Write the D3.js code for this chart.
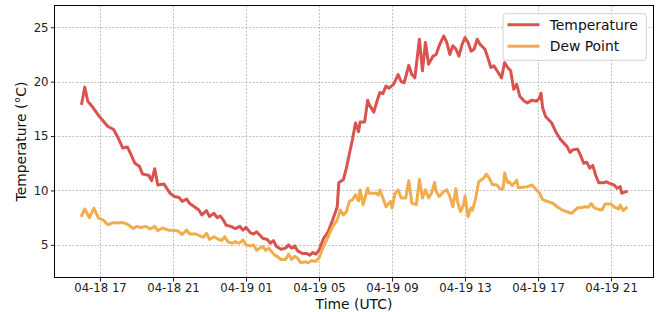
<!DOCTYPE html>
<html>
<head>
<meta charset="utf-8">
<script src="https://cdn.jsdelivr.net/npm/d3@7"></script>
<style>
  html, body { margin: 0; padding: 0; background: #fff; }
  svg { display: block; font-family: "DejaVu Sans", sans-serif; }
</style>
</head>
<body>
<svg id="chart" width="659" height="312"></svg>
<script>
// ---- Data ----
const startTime = "2024-04-18T16:00:00Z";   // first observation (UTC)
const seriesNames = ["Temperature", "Dew Point"];
const seriesColors = ["#d9534f", "#f0ad4e"];

// minutes after startTime, and temperature (°C)
const tempMinutes = [0,10,20,35,55,70,85,105,120,135,150,165,175,190,200,220,230,240,250,270,290,305,320,330,345,355,385,395,410,420,435,445,455,465,475,490,505,520,530,540,555,565,575,585,595,610,620,630,640,655,670,680,690,700,710,725,740,750,760,770,780,795,810,825,840,845,860,870,880,890,900,910,915,930,940,945,960,970,980,990,1000,1010,1025,1040,1050,1060,1075,1085,1095,1110,1120,1130,1140,1155,1165,1175,1190,1200,1210,1220,1230,1240,1250,1260,1270,1280,1290,1300,1310,1325,1335,1345,1355,1370,1380,1390,1400,1410,1420,1430,1440,1455,1465,1480,1495,1505,1510,1515,1525,1545,1560,1575,1595,1605,1615,1630,1640,1650,1660,1670,1680,1690,1700,1715,1725,1735,1750,1760,1770,1775,1790];
const tempValues = [18.0,19.5,18.2,17.7,16.9,16.4,15.9,15.6,14.8,13.9,14.0,13.1,12.5,12.2,11.5,11.4,10.9,12.0,10.5,10.6,9.75,9.45,9.35,9.0,9.2,8.8,8.2,7.75,8.15,7.6,7.9,7.5,7.65,7.3,6.8,6.7,6.5,6.7,6.35,6.6,6.1,6.0,6.2,5.9,5.6,5.5,5.15,5.4,4.85,4.6,4.7,5.0,4.7,4.9,4.45,4.2,4.2,4.05,4.3,4.15,4.5,5.6,6.2,7.3,8.5,10.7,11.0,12.05,13.4,14.7,16.2,15.4,16.3,16.3,18.3,17.9,17.2,18.15,19.0,18.9,19.6,19.4,19.75,20.65,20.0,19.9,21.5,20.65,20.35,23.9,21.0,23.6,21.6,22.35,22.5,23.3,24.2,23.6,22.5,23.3,23.0,22.35,23.4,24.05,23.6,22.8,23.0,23.9,23.4,23.0,22.2,21.3,21.45,20.8,20.35,21.75,21.3,21.0,19.3,19.75,18.65,18.2,18.05,18.3,18.2,18.5,18.95,17.6,16.8,16.2,15.3,14.65,14.05,13.5,13.75,13.8,13.2,12.5,12.6,12.05,12.3,11.35,10.7,10.7,10.8,10.65,10.5,10.2,10.35,9.75,9.9];

// minutes after startTime, and dew point (°C)
const dewMinutes = [0,10,25,40,55,70,85,105,120,135,150,170,180,195,210,225,240,250,265,285,300,315,330,345,355,375,390,400,410,420,435,450,460,470,480,495,505,515,525,530,540,555,565,575,585,595,605,615,625,635,645,655,670,680,690,700,710,720,735,745,755,770,780,795,810,825,840,850,860,870,880,890,900,910,915,925,940,945,965,975,980,990,1000,1015,1020,1030,1040,1050,1065,1075,1085,1100,1110,1120,1130,1140,1150,1160,1165,1175,1190,1200,1210,1220,1230,1235,1245,1255,1260,1270,1280,1285,1295,1305,1320,1330,1340,1350,1365,1375,1385,1390,1400,1405,1415,1430,1435,1450,1465,1480,1490,1505,1515,1530,1550,1565,1580,1600,1610,1620,1630,1640,1655,1665,1675,1685,1695,1710,1720,1730,1740,1750,1765,1770,1780,1790];
const dewValues = [7.7,8.3,7.5,8.35,7.45,7.3,6.85,7.05,7.0,7.05,6.9,6.5,6.7,6.6,6.7,6.45,6.7,6.3,6.55,6.35,6.35,6.3,5.95,6.35,6.0,6.0,5.8,5.7,6.05,5.5,5.75,5.5,5.4,5.75,5.3,5.15,5.3,5.15,5.3,5.45,5.0,4.9,5.0,4.5,4.7,4.85,4.5,4.7,4.35,4.05,3.9,3.65,3.65,4.15,3.65,3.95,3.75,3.35,3.45,3.35,3.55,3.5,3.8,4.85,5.75,6.7,7.3,8.2,7.75,8.05,9.0,9.15,9.6,9.05,10.05,8.7,10.2,9.75,9.75,9.6,10.05,9.3,8.5,9.0,8.4,9.75,10.05,9.3,9.3,10.9,8.85,8.7,11.0,9.3,10.05,9.3,9.75,10.75,9.9,9.45,9.9,10.05,9.45,8.5,10.15,9.0,8.05,8.65,9.5,7.6,8.4,8.2,9.3,10.8,11.1,11.5,11.1,10.55,10.5,10.15,10.15,11.6,10.7,10.8,10.45,10.95,10.25,10.3,10.35,10.5,10.2,9.75,9.15,9.0,8.8,8.45,8.2,8.0,7.9,8.15,8.4,8.4,8.5,8.45,8.8,8.4,8.3,8.2,8.75,8.75,8.75,8.5,8.3,8.65,8.15,8.4];

const xTickLabels = ["04-18 17","04-18 21","04-19 01","04-19 05","04-19 09","04-19 13","04-19 17","04-19 21"];
const yTickValues = [5, 10, 15, 20, 25];
const yDomain = [2.0, 27.0];
const xLabel = "Time (UTC)";
const yLabel = "Temperature (°C)";

// ---- Build ----
const t0 = new Date(startTime);
const toDate = m => new Date(t0.getTime() + m * 60000);
const series = [
  tempMinutes.map((m, i) => ({ t: toDate(m), v: tempValues[i] })),
  dewMinutes.map((m, i) => ({ t: toDate(m), v: dewValues[i] }))
];
const parseTick = d3.utcParse("%Y-%m-%d %H");
const xTicks = xTickLabels.map(s => parseTick("2024-" + s));

const L = 54.5, R = 653.5, T = 5.5, B = 277.5;
const svg = d3.select("#chart");

const [tmin, tmax] = d3.extent(series.flat(), d => d.t);
const pad = (tmax - tmin) * 0.05;
const x = d3.scaleUtc().domain([new Date(+tmin - pad), new Date(+tmax + pad)]).range([L, R]);
const y = d3.scaleLinear().domain(yDomain).range([B, T]);

// grid
const grid = svg.append("g").attr("stroke", "#b0b0b0").attr("stroke-width", 0.8)
  .attr("stroke-dasharray", "2,1.6");
grid.selectAll("line.v").data(xTicks).join("line")
  .attr("x1", d => Math.round(x(d)) + 0.5).attr("x2", d => Math.round(x(d)) + 0.5)
  .attr("y1", T).attr("y2", B);
grid.selectAll("line.h").data(yTickValues).join("line")
  .attr("y1", d => Math.round(y(d)) + 0.5).attr("y2", d => Math.round(y(d)) + 0.5)
  .attr("x1", L).attr("x2", R);

// lines
const line = d3.line().x(d => x(d.t)).y(d => y(d.v));
series.forEach((s, i) => {
  svg.append("path").datum(s)
    .attr("fill", "none").attr("stroke", seriesColors[i])
    .attr("stroke-width", 3).attr("stroke-linejoin", "round").attr("stroke-linecap", "square")
    .attr("d", line);
});

// axes
const xAxis = d3.axisBottom(x).tickValues(xTicks).tickFormat(d3.utcFormat("%m-%d %H"))
  .tickSizeInner(4).tickSizeOuter(0).tickPadding(2);
const gx = svg.append("g").attr("transform", `translate(0,${B})`).call(xAxis);
gx.select(".domain").remove();
gx.selectAll(".tick line").attr("stroke", "#000").attr("stroke-width", 0.9);
gx.selectAll(".tick text").attr("font-size", 11.7).attr("fill", "#222")
  .attr("font-family", "DejaVu Sans");

const yAxis = d3.axisLeft(y).tickValues(yTickValues).tickFormat(d3.format("d"))
  .tickSizeInner(3.5).tickSizeOuter(0).tickPadding(2.5);
const gy = svg.append("g").attr("transform", `translate(${L},0)`).call(yAxis);
gy.select(".domain").remove();
gy.selectAll(".tick line").attr("stroke", "#000").attr("stroke-width", 0.9);
gy.selectAll(".tick text").attr("font-size", 11.7).attr("fill", "#222")
  .attr("font-family", "DejaVu Sans");

// frame
svg.append("rect").attr("x", L).attr("y", T).attr("width", R - L).attr("height", B - T)
  .attr("fill", "none").attr("stroke", "#000").attr("stroke-width", 1);

// axis labels
svg.append("text").attr("x", (L + R) / 2).attr("y", 308.5).attr("text-anchor", "middle")
  .attr("font-size", 13.9).attr("fill", "#111").text(xLabel);
svg.append("text").attr("transform", `translate(25.5,${(T + B) / 2}) rotate(-90)`)
  .attr("text-anchor", "middle").attr("font-size", 13.9).attr("fill", "#111").text(yLabel);

// legend
const lg = svg.append("g");
lg.append("rect").attr("x", 503).attr("y", 13.7).attr("width", 143.3).attr("height", 46.6)
  .attr("rx", 3).attr("fill", "#fff").attr("fill-opacity", 0.8)
  .attr("stroke", "#d0d0d0").attr("stroke-width", 1);
seriesNames.forEach((name, i) => {
  const cy = 24.7 + i * 21.6;
  lg.append("line").attr("x1", 507.5).attr("x2", 539.5).attr("y1", cy).attr("y2", cy)
    .attr("stroke", seriesColors[i]).attr("stroke-width", 3);
  lg.append("text").attr("x", 549.7).attr("y", cy + 5).attr("font-size", 13.9)
    .attr("fill", "#111").text(name);
});
</script>
</body>
</html>
